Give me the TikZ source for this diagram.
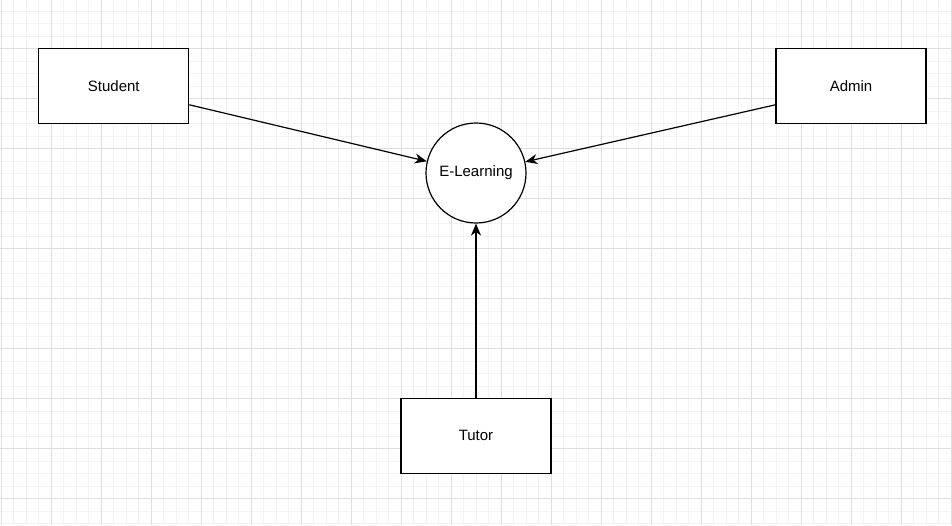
\documentclass[tikz,border=0pt]{standalone}
\usepackage{fontspec}
\setmainfont{Liberation Sans}
\usetikzlibrary{arrows.meta,calc}
\definecolor{gridminor}{RGB}{243,243,243}
\definecolor{gridmajor}{RGB}{222,222,222}

\begin{document}
\begin{tikzpicture}[x=0.75pt, y=-0.75pt,
  entity/.style={draw, line width=0.9pt, minimum width=112.5pt, minimum height=56.25pt, font=\fontsize{11.25}{13}\selectfont},
  process/.style={draw, circle, line width=0.9pt, minimum size=75pt, inner sep=0pt, fill=white, font=\fontsize{11.25}{13}\selectfont},
  flow/.style={line width=0.9pt, -{Stealth[length=9pt, width=7.5pt, inset=2.8pt]}},
  minorline/.style={gridminor, line width=0.75pt},
  majorline/.style={gridmajor, line width=0.75pt}]

  % Background
  \fill[white] (0,0) rectangle (952,525);
  \useasboundingbox (0,0) rectangle (952,525);

  % Grid
  \begin{scope}
    \clip (0,0) rectangle (952,525);
    \foreach \i in {0,...,76} {
      \draw[minorline] ({1+12.5*\i},0) -- ({1+12.5*\i},525);
    }
    \foreach \j in {0,...,41} {
      \draw[minorline] (0,{11.25+12.5*\j}) -- (952,{11.25+12.5*\j});
    }
    \foreach \i in {0,...,19} {
      \draw[majorline] ({1+50*\i},0) -- ({1+50*\i},525);
    }
    \foreach \j in {0,...,9} {
      \draw[majorline] (0,{48.75+50*\j}) -- (952,{48.75+50*\j});
    }
  \end{scope}

  % Entities
  \node[entity, fill=white] (student) at (113.75,85.75) {Student};
  \node[entity, fill=white] (admin) at (851,85.75) {Admin};
  \node[entity, fill=white] (tutor) at (476,435.75) {Tutor};

  % Process
  \node[process] (elearn) at (476,173) {E-Learning};

  % Flows
  \coordinate (studentout) at ($(student.south east)!0.25!(student.north east)$);
  \coordinate (adminout) at ($(admin.south west)!0.25!(admin.north west)$);
  \draw[flow] (studentout) -- (elearn);
  \draw[flow] (adminout) -- (elearn);
  \draw[flow] (tutor) -- (elearn);

\end{tikzpicture}
\end{document}
